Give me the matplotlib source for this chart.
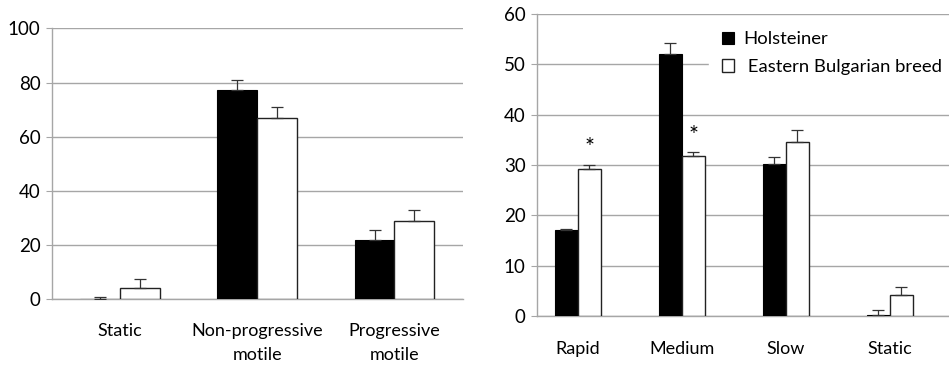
import numpy as np
import matplotlib.pyplot as plt

# left panel: motility classes (%)
left_cats = ["Static", "Non-progressive\nmotile", "Progressive\nmotile"]
left_hol = [0.2, 77.2, 21.9]
left_hol_err = [0.5, 3.8, 3.7]
left_ebb = [4.0, 67.0, 28.8]
left_ebb_err = [3.4, 4.1, 4.0]

# right panel: velocity classes (%)
right_cats = ["Rapid", "Medium", "Slow", "Static"]
right_hol = [17.1, 52.0, 30.3, 0.2]
right_hol_err = [0.15, 2.3, 1.3, 1.05]
right_ebb = [29.3, 31.7, 34.6, 4.1]
right_ebb_err = [0.8, 0.9, 2.4, 1.7]
sig_marks = ["*", "*", "", ""]

plt.rcParams['font.family'] = ['Lato', 'DejaVu Sans']
GRID = '#a6a6a6'

fig = plt.figure(figsize=(9.49, 3.65), dpi=100)
ax1 = fig.add_axes([0.0543, 0.18, 0.4336, 0.742])
ax2 = fig.add_axes([0.5655, 0.1342, 0.4345, 0.8274])


def draw(ax, cats, hol, hol_err, ebb, ebb_err, width):
    x = np.arange(len(cats))
    b1 = ax.bar(x - width / 2, hol, width, color='black', edgecolor='black',
                linewidth=0.8, zorder=3, label='Holsteiner')
    b2 = ax.bar(x + width / 2, ebb, width, color='white', edgecolor='#222222',
                linewidth=1.0, zorder=3, label=' Eastern Bulgarian breed')
    ax.errorbar(x - width / 2, hol, yerr=[np.zeros(len(hol)), hol_err],
                fmt='none', ecolor='#333333', elinewidth=0.9, capsize=4,
                capthick=0.9, zorder=4)
    ax.errorbar(x + width / 2, ebb, yerr=[np.zeros(len(ebb)), ebb_err],
                fmt='none', ecolor='#333333', elinewidth=0.9, capsize=4,
                capthick=0.9, zorder=4)
    ax.set_xticks(x)
    ax.set_xticklabels(cats, fontsize=13, linespacing=1.6)
    ax.tick_params(axis='x', length=0, pad=17)
    ax.tick_params(axis='y', length=4, color=GRID, labelsize=13.5, pad=4)
    ax.yaxis.grid(True, color=GRID, linewidth=1.0, zorder=0)
    for s in ['top', 'right']:
        ax.spines[s].set_visible(False)
    ax.spines['left'].set_color(GRID)
    ax.spines['bottom'].set_color(GRID)
    ax.spines['left'].set_linewidth(1.0)
    ax.spines['bottom'].set_linewidth(1.0)
    return b1, b2


draw(ax1, left_cats, left_hol, left_hol_err, left_ebb, left_ebb_err, 0.29)
ax1.set_xlim(-0.5, 2.5)
ax1.set_ylim(0, 100)
ax1.set_yticks(range(0, 101, 20))

w2 = 0.22
draw(ax2, right_cats, right_hol, right_hol_err, right_ebb, right_ebb_err, w2)
ax2.set_xlim(-0.394, 3.57)
ax2.set_ylim(0, 60)
ax2.set_yticks(range(0, 61, 10))
ax2.tick_params(axis='x', pad=18)
for i, m in enumerate(sig_marks):
    if m:
        ax2.text(i + w2 / 2, right_ebb[i] + right_ebb_err[i] + 3.3, m,
                 ha='center', va='center', fontsize=17, zorder=5)

leg = ax2.legend(loc='upper left', bbox_to_anchor=(0.418, 0.985), frameon=True,
                 fontsize=13.3, handlelength=0.65, handleheight=0.7,
                 handletextpad=0.5, labelspacing=0.64, borderpad=0.7,
                 borderaxespad=0)
leg.get_frame().set_edgecolor('white')
leg.get_frame().set_facecolor('white')
leg.get_frame().set_alpha(1)
leg.set_zorder(6)

fig.savefig('out.png', dpi=100)
